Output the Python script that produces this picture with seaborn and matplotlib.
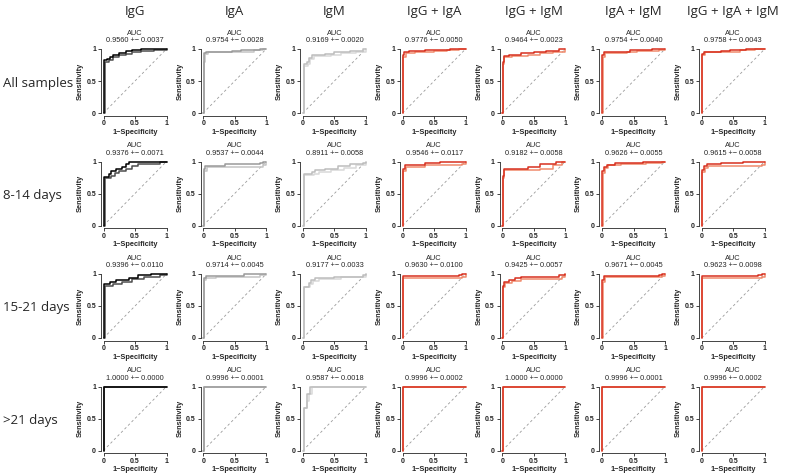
# grade de curvas ROC: 4 janelas de tempo x 7 combinações de anticorpos
import pandas as pd
import matplotlib.pyplot as plt
import seaborn as sns

antibodies = ['IgG', 'IgA', 'IgM', 'IgG + IgA', 'IgG + IgM', 'IgA + IgM', 'IgG + IgA + IgM']
periods = ['All samples', '8-14 days', '15-21 days', '>21 days']

# AUC média e desvio (uma lista por linha)
auc_mean_all = [0.9560, 0.9754, 0.9169, 0.9776, 0.9464, 0.9754, 0.9758]
auc_sd_all = [0.0037, 0.0028, 0.0020, 0.0050, 0.0023, 0.0040, 0.0043]
auc_mean_8_14 = [0.9376, 0.9537, 0.8911, 0.9546, 0.9182, 0.9626, 0.9615]
auc_sd_8_14 = [0.0071, 0.0044, 0.0058, 0.0117, 0.0058, 0.0055, 0.0058]
auc_mean_15_21 = [0.9396, 0.9714, 0.9177, 0.9630, 0.9425, 0.9671, 0.9623]
auc_sd_15_21 = [0.0110, 0.0045, 0.0033, 0.0100, 0.0057, 0.0045, 0.0098]
auc_mean_21 = [1.0000, 0.9996, 0.9587, 0.9996, 1.0000, 0.9996, 0.9996]
auc_sd_21 = [0.0000, 0.0001, 0.0018, 0.0002, 0.0000, 0.0001, 0.0002]

# curvas ROC (1-especificidade, sensibilidade), par superior / inferior por painel
roc_all = [
    [[(0, 0), (0.01, 0.83), (0.05, 0.85), (0.1, 0.88), (0.15, 0.91), (0.25, 0.94), (0.35, 0.97), (0.45, 0.99), (0.6, 1), (1, 1)],
     [(0, 0), (0.02, 0.80), (0.08, 0.83), (0.15, 0.87), (0.25, 0.90), (0.35, 0.92), (0.45, 0.95), (0.6, 0.97), (0.8, 0.99), (1, 1)]],
    [[(0, 0), (0.005, 0.85), (0.02, 0.94), (0.05, 0.96), (0.45, 0.97), (0.6, 0.99), (0.9, 1), (1, 1)],
     [(0, 0), (0.01, 0.80), (0.03, 0.92), (0.07, 0.95), (0.55, 0.96), (0.8, 0.98), (0.95, 1), (1, 1)]],
    [[(0, 0), (0.01, 0.76), (0.07, 0.79), (0.1, 0.86), (0.15, 0.90), (0.35, 0.92), (0.5, 0.95), (0.75, 0.97), (0.95, 1), (1, 1)],
     [(0, 0), (0.02, 0.74), (0.08, 0.77), (0.12, 0.84), (0.18, 0.89), (0.45, 0.91), (0.6, 0.93), (0.85, 0.96), (1, 1)]],
    [[(0, 0), (0.005, 0.90), (0.03, 0.95), (0.1, 0.97), (0.35, 0.98), (0.5, 0.99), (0.75, 1), (1, 1)],
     [(0, 0), (0.01, 0.88), (0.05, 0.94), (0.2, 0.96), (0.5, 0.97), (0.7, 0.98), (0.9, 1), (1, 1)]],
    [[(0, 0), (0.005, 0.80), (0.02, 0.89), (0.1, 0.91), (0.3, 0.93), (0.5, 0.95), (0.7, 0.97), (0.9, 1), (1, 1)],
     [(0, 0), (0.01, 0.77), (0.03, 0.87), (0.15, 0.89), (0.4, 0.91), (0.6, 0.93), (0.8, 0.96), (1, 1)]],
    [[(0, 0), (0.005, 0.90), (0.03, 0.95), (0.35, 0.96), (0.45, 0.98), (0.8, 1), (1, 1)],
     [(0, 0), (0.01, 0.88), (0.05, 0.94), (0.4, 0.95), (0.55, 0.97), (0.9, 0.99), (1, 1)]],
    [[(0, 0), (0.005, 0.92), (0.04, 0.96), (0.3, 0.97), (0.45, 0.99), (0.7, 1), (1, 1)],
     [(0, 0), (0.01, 0.90), (0.05, 0.95), (0.4, 0.96), (0.6, 0.98), (0.85, 1), (1, 1)]],
]
roc_8_14 = [
    [[(0, 0), (0.01, 0.76), (0.08, 0.80), (0.12, 0.85), (0.2, 0.88), (0.3, 0.92), (0.35, 0.96), (0.4, 1), (1, 1)],
     [(0, 0), (0.02, 0.75), (0.12, 0.78), (0.18, 0.82), (0.25, 0.85), (0.35, 0.88), (0.45, 0.93), (0.55, 0.96), (0.9, 1), (1, 1)]],
    [[(0, 0), (0.01, 0.88), (0.03, 0.93), (0.35, 0.96), (0.9, 0.98), (0.95, 1), (1, 1)],
     [(0, 0), (0.02, 0.85), (0.06, 0.92), (0.95, 0.94), (1, 1)]],
    [[(0, 0), (0.01, 0.80), (0.15, 0.83), (0.2, 0.86), (0.35, 0.88), (0.55, 0.93), (0.75, 0.96), (0.95, 0.98), (1, 1)],
     [(0, 0), (0.02, 0.79), (0.18, 0.81), (0.25, 0.84), (0.45, 0.87), (0.65, 0.90), (0.85, 0.95), (1, 1)]],
    [[(0, 0), (0.005, 0.88), (0.04, 0.95), (0.35, 0.97), (0.6, 0.99), (0.9, 1), (1, 1)],
     [(0, 0), (0.01, 0.85), (0.06, 0.92), (0.35, 0.94), (0.95, 0.96), (1, 1)]],
    [[(0, 0), (0.005, 0.77), (0.02, 0.88), (0.4, 0.92), (0.6, 0.96), (0.85, 1), (1, 1)],
     [(0, 0), (0.01, 0.74), (0.03, 0.86), (0.6, 0.88), (0.8, 0.94), (0.95, 0.99), (1, 1)]],
    [[(0, 0), (0.005, 0.85), (0.03, 0.92), (0.08, 0.95), (0.2, 0.97), (0.65, 1), (1, 1)],
     [(0, 0), (0.01, 0.82), (0.05, 0.90), (0.1, 0.94), (0.3, 0.96), (0.7, 0.98), (0.95, 1), (1, 1)]],
    [[(0, 0), (0.005, 0.86), (0.03, 0.93), (0.08, 0.96), (0.3, 0.98), (0.65, 1), (1, 1)],
     [(0, 0), (0.01, 0.83), (0.05, 0.90), (0.1, 0.93), (0.95, 0.95), (1, 1)]],
]
roc_15_21 = [
    [[(0, 0), (0.01, 0.84), (0.1, 0.87), (0.2, 0.91), (0.4, 0.94), (0.55, 0.98), (0.75, 1), (1, 1)],
     [(0, 0), (0.02, 0.82), (0.15, 0.85), (0.3, 0.88), (0.45, 0.92), (0.65, 0.95), (0.9, 0.98), (1, 1)]],
    [[(0, 0), (0.01, 0.93), (0.04, 0.97), (0.65, 1), (1, 1)],
     [(0, 0), (0.02, 0.90), (0.05, 0.94), (0.2, 0.96), (0.9, 0.98), (1, 1)]],
    [[(0, 0), (0.01, 0.80), (0.1, 0.86), (0.13, 0.91), (0.2, 0.93), (0.5, 0.96), (0.95, 0.98), (1, 1)],
     [(0, 0), (0.02, 0.79), (0.12, 0.84), (0.16, 0.89), (0.25, 0.92), (0.6, 0.95), (1, 1)]],
    [[(0, 0), (0.005, 0.97), (0.9, 0.99), (0.95, 1), (1, 1)],
     [(0, 0), (0.01, 0.93), (0.95, 0.95), (1, 1)]],
    [[(0, 0), (0.005, 0.82), (0.03, 0.88), (0.1, 0.91), (0.2, 0.94), (0.3, 0.96), (0.9, 0.99), (1, 1)],
     [(0, 0), (0.01, 0.80), (0.05, 0.86), (0.15, 0.89), (0.3, 0.92), (0.95, 0.96), (1, 1)]],
    [[(0, 0), (0.005, 0.90), (0.03, 0.97), (0.9, 0.99), (0.95, 1), (1, 1)],
     [(0, 0), (0.01, 0.87), (0.05, 0.95), (0.95, 0.97), (1, 1)]],
    [[(0, 0), (0.005, 0.97), (0.9, 0.99), (0.95, 1), (1, 1)],
     [(0, 0), (0.01, 0.93), (0.95, 0.95), (1, 1)]],
]
roc_21 = [
    [[(0, 0), (0.005, 1), (1, 1)], [(0, 0), (0.005, 1), (1, 1)]],
    [[(0, 0), (0.01, 1), (1, 1)], [(0, 0), (0.01, 1), (1, 1)]],
    [[(0, 0), (0.01, 0.67), (0.07, 0.89), (0.12, 1), (1, 1)],
     [(0, 0), (0.01, 0.67), (0.07, 0.78), (0.1, 0.89), (0.15, 1), (1, 1)]],
    [[(0, 0), (0.005, 1), (1, 1)], [(0, 0), (0.005, 1), (1, 1)]],
    [[(0, 0), (0.005, 1), (1, 1)], [(0, 0), (0.005, 1), (1, 1)]],
    [[(0, 0), (0.005, 1), (1, 1)], [(0, 0), (0.005, 1), (1, 1)]],
    [[(0, 0), (0.005, 1), (1, 1)], [(0, 0), (0.005, 1), (1, 1)]],
]

rows = [
    (roc_all, auc_mean_all, auc_sd_all),
    (roc_8_14, auc_mean_8_14, auc_sd_8_14),
    (roc_15_21, auc_mean_15_21, auc_sd_15_21),
    (roc_21, auc_mean_21, auc_sd_21),
]

# cores: preto para IgG, cinza para IgA/IgM, vermelho para combinações
red = ['#d7301f', '#f08a6c']
colors = [['#000000', '#4d4d4d'], ['#9a9a9a', '#c4c4c4'], ['#bdbdbd', '#d9d9d9'],
          red, red, red, red]

sns.set_style('ticks')
plt.rcParams['font.family'] = ['Liberation Sans', 'DejaVu Sans']

W, H = 789, 475
fig = plt.figure(figsize=(W / 100, H / 100), dpi=100)

col_x0 = [103.5 + 99.7 * j for j in range(7)]   # pixel do x=0 em cada coluna
row_y1 = [49, 161.5, 274, 386.5]                # pixel do y=1 em cada linha
dw, dh = 63, 64                                  # tamanho em pixels de 0..1
pad = 0.04

for i, (curves, means, sds) in enumerate(rows):
    for j in range(7):
        left = col_x0[j] - pad * dw
        top = row_y1[i] - pad * dh
        aw, ah = dw * (1 + 2 * pad), dh * (1 + 2 * pad)
        ax = fig.add_axes([left / W, 1 - (top + ah) / H, aw / W, ah / H])

        # monta dataframe longo das curvas do painel
        recs = []
        for k, curve in enumerate(curves[j]):
            for fx, ty in curve:
                recs.append({'curve': k, 'fpr': fx, 'tpr': ty})
        df = pd.DataFrame(recs)

        ax.plot([0, 1], [0, 1], color='#9a9a9a', lw=0.6, ls=(0, (3, 3)))
        # desenha a curva clara primeiro e a escura por cima
        sns.lineplot(data=df, x='fpr', y='tpr', hue='curve',
                     palette=colors[j][::-1], hue_order=[1, 0], estimator=None, sort=False,
                     drawstyle='steps-post', lw=1.1, legend=False, ax=ax)

        ax.set_xlim(-pad, 1 + pad)
        ax.set_ylim(-pad, 1 + pad)
        ax.set_xticks([0, 0.5, 1])
        ax.set_yticks([0, 0.5, 1])
        ax.set_xticklabels(['0', '0.5', '1'], fontsize=5, fontweight='bold')
        ax.set_yticklabels(['0', '0.5', '1'], fontsize=5, fontweight='bold')
        ax.tick_params(length=2, width=0.6, pad=1.5, colors='#222222')
        for side in ['top', 'right']:
            ax.spines[side].set_visible(False)
        ax.spines['left'].set_bounds(0, 1)
        ax.spines['bottom'].set_bounds(0, 1)
        ax.spines['left'].set_linewidth(0.6)
        ax.spines['bottom'].set_linewidth(0.6)
        ax.set_xlabel('1\u2212Specificity', fontsize=5.3, fontweight='bold', labelpad=1)
        ax.set_ylabel('Sensitivity', fontsize=5.3, fontweight='bold', labelpad=2)
        ax.set_title(f'AUC\n{means[j]:.4f} +\u2212 {sds[j]:.4f}', fontsize=5.3,
                     pad=3, linespacing=1.1)

# títulos das colunas e rótulos das linhas
for j, name in enumerate(antibodies):
    fig.text((col_x0[j] + dw / 2) / W, 1 - 12 / H, name, ha='center', va='center',
             fontsize=9.5, family=['Open Sans', 'DejaVu Sans'])
for i, name in enumerate(periods):
    fig.text(3 / W, 1 - (row_y1[i] + dh / 2 + 2) / H, name, ha='left', va='center',
             fontsize=9.5, family=['Open Sans', 'DejaVu Sans'])

fig.savefig('out.png', dpi=100)
